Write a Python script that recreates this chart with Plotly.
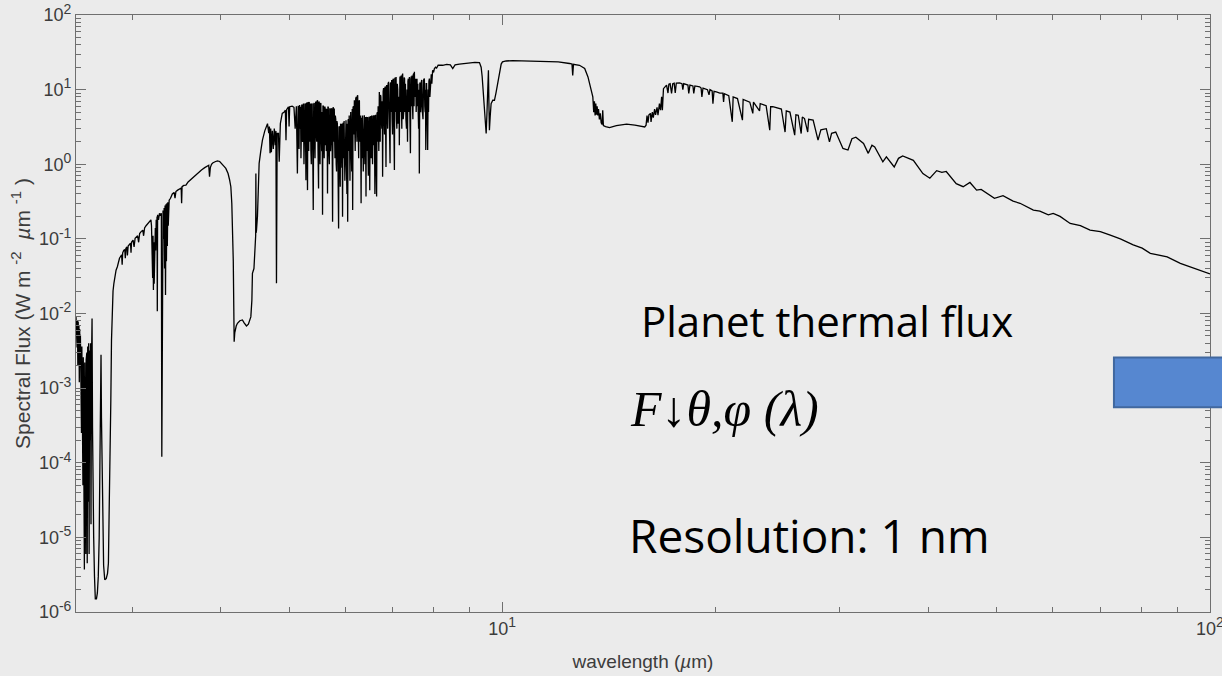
import numpy as np
import plotly.graph_objects as go

# ---- spectrum (wavelength in micrometres, flux in W m^-2 um^-1) ----
wl_a = [2.500, 2.503, 2.506, 2.509, 2.512, 2.515, 2.518, 2.521, 2.524, 2.527, 2.530, 2.533, 2.536, 2.539,
        2.542, 2.545, 2.548, 2.551, 2.554, 2.557, 2.560, 2.563, 2.566, 2.569, 2.572, 2.575, 2.578, 2.581,
        2.584, 2.587, 2.590, 2.593, 2.597, 2.601, 2.605, 2.609, 2.613, 2.617, 2.621, 2.625, 2.629, 2.634,
        2.638, 2.642, 2.648, 2.655, 2.662, 2.672, 2.680, 2.688, 2.696, 2.702, 2.708, 2.712, 2.716, 2.722,
        2.728, 2.735, 2.745, 2.758, 2.770, 2.778, 2.784, 2.792, 2.800, 2.806, 2.812, 2.820, 2.828, 2.838,
        2.848, 2.860, 2.870, 2.880, 2.890, 2.900, 2.905, 2.910, 2.920, 2.930, 2.935, 2.940, 2.950, 2.955,
        2.962, 2.975, 2.985, 2.990, 2.995, 3.010, 3.020, 3.030, 3.040, 3.055, 3.065, 3.075, 3.090, 3.107,
        3.115, 3.125, 3.140, 3.150, 3.160, 3.170, 3.180, 3.190, 3.196, 3.200, 3.204, 3.208, 3.212, 3.216,
        3.220, 3.224, 3.228, 3.232, 3.236, 3.240, 3.245, 3.250, 3.254, 3.257, 3.260, 3.270, 3.280, 3.290,
        3.300, 3.305, 3.310, 3.318, 3.325, 3.330, 3.335, 3.340, 3.345, 3.350, 3.355, 3.360, 3.365, 3.370,
        3.375, 3.385]
fx_a = [0.0090, 0.0055, 0.0088, 0.0035, 0.0082, 0.0020, 0.0078, 0.0028, 0.0070, 0.0012, 0.0062, 0.0019,
        0.0052, 0.0006, 0.0045, 0.00025, 0.0036, 0.000185, 0.0030, 0.00005, 0.0026, 0.000011, 0.0024,
        0.0000037, 0.0022, 0.00002, 0.0020, 0.000006, 0.0024, 0.00008, 0.0030, 0.0000045, 0.0036, 0.00003,
        0.0040, 0.000006, 0.0032, 0.0002, 0.0040, 0.000015, 0.0020, 0.0086, 0.0003, 0.00004, 0.00001,
        0.000003, 0.0000015, 0.0000015, 0.0000018, 0.000003, 0.00001, 0.00009, 0.0005, 0.0028, 0.0004,
        0.00009, 0.000012, 0.0000042, 0.0000027, 0.0000028, 0.0000033, 0.0000045, 0.000019, 0.00042,
        0.0007, 0.0044, 0.0152, 0.020, 0.0254, 0.033, 0.038, 0.0423, 0.050, 0.055, 0.058, 0.061, 0.045,
        0.065, 0.070, 0.072, 0.055, 0.0745, 0.078, 0.060, 0.080, 0.084, 0.0874, 0.065, 0.090, 0.096, 0.078,
        0.102, 0.105, 0.110, 0.090, 0.118, 0.125, 0.131, 0.110, 0.140, 0.150, 0.155, 0.162, 0.170, 0.175,
        0.180, 0.150, 0.060, 0.130, 0.030, 0.110, 0.0206, 0.090, 0.025, 0.100, 0.040, 0.140, 0.070, 0.180,
        0.090, 0.200, 0.0107, 0.210, 0.180, 0.220, 0.210, 0.220, 0.00012, 0.230, 0.240, 0.100, 0.260,
        0.040, 0.280, 0.0177, 0.290, 0.050, 0.300, 0.080, 0.310, 0.150, 0.330]

wl_b = [3.400, 3.420, 3.440, 3.450, 3.460, 3.480, 3.500, 3.520, 3.525, 3.530, 3.550, 3.575, 3.600, 3.620,
        3.640, 3.660, 3.680, 3.700, 3.730, 3.760, 3.800, 3.830, 3.850, 3.860, 3.870, 3.885, 3.900, 3.930,
        3.960, 3.990, 4.020, 4.050, 4.070, 4.100, 4.120, 4.137, 4.150, 4.160, 4.170, 4.177, 4.182, 4.190,
        4.210, 4.227, 4.260, 4.296, 4.320, 4.353, 4.380, 4.400, 4.415, 4.430, 4.438, 4.460, 4.478, 4.485,
        4.488, 4.491, 4.497, 4.511, 4.525, 4.536, 4.560, 4.585, 4.620, 4.661, 4.680, 4.690, 4.700, 4.710,
        4.720, 4.735, 4.750, 4.765, 4.780, 4.790, 4.799, 4.810, 4.830, 4.842, 4.860, 4.890, 4.921, 4.940,
        4.950, 4.960, 4.990, 5.000, 5.010, 5.050, 5.080, 5.100, 5.120, 5.137]
fx_b = [0.350, 0.400, 0.420, 0.350, 0.430, 0.450, 0.470, 0.480, 0.300, 0.500, 0.520, 0.525, 0.580, 0.610,
        0.640, 0.670, 0.700, 0.740, 0.790, 0.840, 0.900, 0.950, 0.970, 0.680, 0.900, 1.000, 1.040, 1.080,
        1.110, 1.090, 1.020, 0.930, 0.880, 0.750, 0.620, 0.500, 0.300, 0.160, 0.050, 0.012, 0.0042, 0.0055,
        0.0068, 0.0074, 0.0080, 0.0082, 0.0075, 0.0068, 0.0072, 0.0085, 0.0090, 0.0150, 0.0345, 0.0400,
        0.0960, 0.110, 0.750, 0.120, 0.131, 0.198, 0.500, 1.03, 1.50, 2.10, 2.80, 3.50, 2.60, 3.20, 1.40,
        3.00, 1.45, 2.80, 1.60, 3.00, 1.80, 2.80, 0.0254, 2.60, 2.60, 1.08, 3.50, 4.80, 5.00, 5.30, 2.10,
        5.40, 5.90, 3.20, 5.90, 6.00, 5.80, 3.00, 6.00, 0.75]

# 5.15-8.0 um water band: (wavelength, flux) pairs
band_c = [
    (5.150, 6.1), (5.157, 2.5), (5.165, 1.6), (5.170, 5.8), (5.175, 6.2), (5.182, 3.0), (5.190, 5.9),
    (5.197, 1.2), (5.204, 6.0), (5.210, 6.3), (5.217, 2.2), (5.225, 2.0), (5.232, 6.2), (5.240, 6.5),
    (5.248, 1.0), (5.255, 6.3), (5.260, 2.5), (5.265, 6.4), (5.270, 6.5), (5.276, 1.8), (5.282, 0.61),
    (5.289, 6.5), (5.295, 6.7), (5.302, 2.0), (5.309, 0.45), (5.315, 6.6), (5.320, 6.8), (5.325, 2.5),
    (5.330, 1.5), (5.335, 6.7), (5.339, 6.84), (5.345, 2.0), (5.350, 3.0), (5.355, 6.5), (5.360, 6.5),
    (5.368, 1.5), (5.375, 1.0), (5.382, 6.4), (5.390, 6.5), (5.400, 1.5), (5.409, 0.243), (5.417, 6.4),
    (5.425, 6.6), (5.432, 2.5), (5.440, 1.2), (5.450, 6.7), (5.460, 6.9), (5.465, 2.5), (5.470, 2.0),
    (5.477, 7.0), (5.485, 7.2), (5.494, 1.5), (5.503, 0.474), (5.509, 6.8), (5.515, 6.8), (5.522, 2.0),
    (5.530, 1.0), (5.538, 6.6), (5.545, 6.5), (5.552, 2.5), (5.560, 1.5), (5.567, 5.0), (5.575, 0.21),
    (5.582, 6.0), (5.590, 6.0), (5.597, 2.0), (5.605, 1.2), (5.612, 5.9), (5.620, 5.8), (5.628, 1.8),
    (5.637, 5.58), (5.643, 1.5), (5.650, 2.0), (5.658, 5.5), (5.666, 0.406), (5.673, 5.8), (5.680, 5.9),
    (5.690, 1.5), (5.700, 1.0), (5.707, 5.6), (5.715, 5.5), (5.722, 1.5), (5.730, 2.0), (5.738, 5.5),
    (5.745, 5.6), (5.752, 2.0), (5.760, 0.17), (5.768, 5.7), (5.775, 5.8), (5.783, 2.0), (5.792, 5.58),
    (5.798, 2.5), (5.805, 1.2), (5.812, 4.5), (5.820, 4.0), (5.828, 1.0), (5.835, 0.80), (5.842, 3.8),
    (5.850, 3.5), (5.862, 1.0), (5.874, 0.138), (5.881, 3.2), (5.888, 3.17), (5.896, 1.2), (5.905, 0.50),
    (5.912, 3.4), (5.920, 3.5), (5.928, 1.5), (5.935, 0.90), (5.942, 3.5), (5.950, 0.198), (5.958, 3.5),
    (5.965, 3.6), (5.972, 1.2), (5.980, 3.8), (5.987, 1.5), (5.995, 0.60), (6.005, 3.8), (6.017, 3.89),
    (6.026, 1.0), (6.035, 0.40), (6.042, 3.5), (6.050, 0.17), (6.058, 3.9), (6.065, 4.0), (6.072, 1.5),
    (6.080, 4.5), (6.088, 2.0), (6.095, 0.60), (6.102, 4.8), (6.110, 5.0), (6.120, 2.0), (6.130, 0.80),
    (6.140, 5.5), (6.149, 0.243), (6.157, 5.8), (6.165, 6.0), (6.174, 2.5), (6.183, 7.2), (6.192, 3.0),
    (6.200, 1.5), (6.210, 7.5), (6.220, 8.0), (6.228, 3.5), (6.235, 2.0), (6.242, 8.2), (6.250, 8.4),
    (6.260, 3.0), (6.270, 1.2), (6.278, 7.0), (6.285, 7.2), (6.292, 2.0), (6.300, 3.0), (6.310, 4.5),
    (6.320, 0.30), (6.328, 4.2), (6.335, 4.0), (6.342, 1.2), (6.350, 4.5), (6.358, 2.0), (6.365, 0.80),
    (6.375, 4.4), (6.387, 4.54), (6.394, 2.0), (6.400, 1.0), (6.410, 4.3), (6.422, 0.37), (6.428, 4.2),
    (6.435, 4.3), (6.442, 1.5), (6.450, 4.3), (6.460, 2.0), (6.470, 0.70), (6.480, 4.2), (6.491, 4.3),
    (6.496, 1.5), (6.500, 0.45), (6.510, 4.3), (6.520, 4.4), (6.530, 1.2), (6.540, 4.5), (6.550, 2.0),
    (6.560, 1.0), (6.570, 4.4), (6.580, 4.5), (6.590, 1.8), (6.598, 4.54), (6.604, 1.5), (6.610, 0.40),
    (6.618, 4.5), (6.625, 4.6), (6.636, 1.5), (6.647, 0.37), (6.656, 4.8), (6.665, 5.0), (6.672, 2.0),
    (6.680, 6.0), (6.688, 3.0), (6.695, 1.5), (6.700, 8.0), (6.706, 9.3), (6.715, 4.0), (6.725, 2.0),
    (6.732, 8.5), (6.740, 8.0), (6.750, 4.0), (6.760, 3.0), (6.770, 7.0), (6.778, 0.68), (6.790, 9.5),
    (6.800, 10.5), (6.810, 4.0), (6.820, 2.5), (6.828, 10.5), (6.835, 11.0), (6.845, 3.0), (6.853, 0.92),
    (6.862, 11.0), (6.870, 11.5), (6.880, 5.0), (6.890, 3.0), (6.900, 12.0), (6.912, 12.7), (6.928, 4.0),
    (6.944, 1.03), (6.952, 12.0), (6.960, 12.5), (6.970, 5.0), (6.980, 13.5), (6.990, 4.0), (7.000, 2.50),
    (7.010, 13.5), (7.020, 14.0), (7.032, 3.0), (7.043, 0.84), (7.052, 14.0), (7.060, 14.5), (7.070, 5.0),
    (7.082, 14.8), (7.090, 4.0), (7.100, 3.00), (7.110, 12.0), (7.120, 10.0), (7.130, 3.5), (7.140, 4.00),
    (7.150, 8.0), (7.157, 1.80), (7.170, 14.5), (7.180, 15.0), (7.190, 5.0), (7.200, 15.5), (7.208, 5.0),
    (7.215, 3.00), (7.225, 15.5), (7.235, 16.4), (7.248, 4.0), (7.260, 5.00), (7.270, 14.5), (7.280, 14.0),
    (7.290, 5.0), (7.300, 12.0), (7.312, 4.0), (7.325, 3.00), (7.338, 10.0), (7.350, 2.00), (7.360, 13.0),
    (7.370, 14.0), (7.382, 5.0), (7.395, 14.8), (7.408, 4.0), (7.420, 1.40), (7.430, 14.0), (7.440, 15.0),
    (7.450, 6.0), (7.460, 15.5), (7.470, 6.0), (7.480, 4.00), (7.490, 16.0), (7.500, 16.5), (7.508, 6.0),
    (7.516, 17.3), (7.528, 9.0), (7.540, 8.00), (7.550, 14.0), (7.560, 5.00), (7.570, 13.0), (7.580, 14.0),
    (7.590, 6.0), (7.600, 12.0), (7.610, 5.0), (7.620, 3.00), (7.630, 10.0), (7.638, 0.75), (7.650, 12.0),
    (7.660, 12.5), (7.670, 5.0), (7.680, 6.00), (7.690, 13.0), (7.700, 13.5), (7.715, 5.0), (7.730, 4.00),
    (7.745, 13.5), (7.764, 14.1), (7.775, 6.0), (7.785, 5.00), (7.792, 10.0), (7.800, 1.55), (7.810, 12.0),
    (7.820, 12.0), (7.835, 6.0), (7.848, 1.55), (7.860, 10.0), (7.870, 5.00), (7.880, 13.0), (7.892, 14.1),
    (7.905, 8.0), (7.920, 12.0), (7.930, 15.0), (7.940, 16.0), (7.955, 12.0), (7.976, 18.2), (8.000, 17.0),
]

# 8-10 um window and ozone band
wl_w = [8.020, 8.050, 8.080, 8.120, 8.241, 8.350, 8.450, 8.515, 8.580, 8.700, 8.850, 8.990, 9.150, 9.288,
        9.339, 9.370, 9.388, 9.410, 9.440, 9.470, 9.493, 9.515, 9.540, 9.563, 9.580, 9.594, 9.620, 9.647,
        9.700, 9.752, 9.800, 9.858, 9.910, 9.968, 10.01]
fx_w = [19.0, 20.0, 19.5, 21.2, 21.2, 21.8, 21.5, 19.2, 21.5, 22.0, 22.4, 23.0, 23.2, 23.0, 20.0, 15.0,
        12.0, 7.2, 5.3, 3.5, 2.58, 4.5, 8.0, 18.2, 6.0, 2.86, 4.5, 6.5, 7.2, 7.2, 9.0, 12.0, 17.0, 22.0,
        23.5]

wl_d = [10.13, 10.35, 10.80, 11.50, 12.00, 12.45, 12.55, 12.58, 12.61, 12.86, 13.08, 13.22, 13.36, 13.43,
        13.47, 13.50, 13.53, 13.56, 13.59, 13.62, 13.65, 13.68, 13.72, 13.76, 13.80, 13.84, 13.87, 13.90,
        14.00, 14.18, 14.50, 14.99, 15.40, 15.90, 15.97, 16.02, 16.07, 16.12, 16.20, 16.23, 16.30, 16.35,
        16.42, 16.47, 16.55, 16.60, 16.68, 16.74, 16.80, 16.84, 16.90, 16.97, 17.07, 17.15, 17.20, 17.27,
        17.35, 17.42, 17.50, 17.56, 17.62, 17.81, 17.95, 18.00, 18.05, 18.30, 18.35, 18.42, 18.60, 18.65,
        18.72, 19.01, 19.10, 19.15, 19.22, 19.50, 19.60, 19.66, 19.80, 19.85, 19.92]
fx_d = [24.2, 24.5, 24.3, 24.0, 23.5, 22.4, 22.0, 15.5, 21.8, 21.2, 19.2, 14.8, 9.8, 8.0, 5.0, 7.0, 4.5,
        6.5, 4.6, 6.0, 4.5, 5.5, 4.0, 4.8, 3.6, 3.4, 5.3, 3.3, 3.2, 3.1, 3.3, 3.44, 3.35, 3.16, 3.34, 4.5,
        3.6, 4.6, 4.8, 3.7, 5.0, 4.2, 5.5, 4.6, 5.8, 4.54, 6.5, 5.3, 8.0, 5.3, 10.3, 10.9, 11.5, 9.0, 11.8,
        12.0, 8.9, 12.0, 12.2, 9.0, 12.2, 12.3, 12.0, 10.0, 12.0, 11.5, 8.9, 11.5, 11.2, 8.9, 11.2, 10.9,
        10.5, 8.0, 10.5, 10.0, 8.5, 10.0, 9.6, 6.5, 9.5]

wl_e = [20.07, 20.30, 20.50, 20.55, 20.60, 20.90, 21.14, 21.20, 21.50, 21.85, 21.90, 22.38, 22.60, 22.65,
        23.10, 23.15, 23.60, 23.88, 23.95, 24.12, 24.80, 25.10, 25.20, 25.50, 25.90, 26.00, 26.20, 26.45,
        26.55, 26.74, 27.02, 27.10, 27.50, 27.94, 28.20, 28.70, 29.00, 29.20, 29.60, 30.30, 30.80, 31.20,
        31.60, 32.40, 32.90, 33.30, 33.60, 34.50, 34.90, 35.80, 36.30, 36.80, 38.10, 38.60, 39.30, 40.20,
        41.10, 41.80, 42.40, 43.80, 44.80, 45.80, 46.80, 47.50, 48.30, 49.60, 51.00, 52.70, 53.90, 55.00,
        56.30, 57.50, 59.10, 60.05, 61.40, 63.45, 65.60, 67.70, 70.00, 72.30, 74.70, 77.90, 80.20, 82.35,
        85.20, 87.00, 90.80, 93.80, 96.90, 100.0]
fx_e = [9.3, 9.0, 9.0, 6.84, 8.8, 8.3, 3.7, 8.0, 7.6, 3.9, 7.4, 6.8, 4.8, 6.8, 5.2, 6.5, 6.1, 2.86, 5.9,
        5.9, 5.5, 2.7, 5.2, 5.0, 2.45, 4.6, 4.54, 2.58, 4.3, 4.1, 2.7, 4.0, 3.9, 2.1, 2.9, 3.0, 2.0, 2.6,
        2.7, 1.63, 1.55, 2.2, 2.3, 1.9, 1.4, 1.8, 1.71, 1.08, 1.26, 0.92, 1.2, 1.29, 1.13, 0.95, 0.75, 0.65,
        0.82, 0.78, 0.80, 0.55, 0.50, 0.57, 0.45, 0.46, 0.41, 0.35, 0.38, 0.32, 0.30, 0.27, 0.243, 0.235,
        0.21, 0.22, 0.20, 0.161, 0.150, 0.131, 0.125, 0.112, 0.100, 0.083, 0.075, 0.064, 0.060, 0.0575,
        0.047, 0.042, 0.038, 0.034]

x_tick_vals = [10, 100]
x_exponents = ["1", "2"]
y_tick_vals = [1e-6, 1e-5, 1e-4, 1e-3, 1e-2, 1e-1, 1e0, 1e1, 1e2]
y_exponents = ["-6", "-5", "-4", "-3", "-2", "-1", "0", "1", "2"]

SUP = '10<sup><span style="font-size:14px">{}</span></sup>'
x_tick_text = [SUP.format(e) for e in x_exponents]
y_tick_text = [SUP.format(e) for e in y_exponents]

for a, b in ((wl_a, fx_a), (wl_b, fx_b), (wl_w, fx_w), (wl_d, fx_d), (wl_e, fx_e)):
    assert len(a) == len(b), (len(a), len(b))

wl_c = [p[0] for p in band_c]
fx_c = [p[1] for p in band_c]
wavelength = wl_a + wl_b + wl_c + wl_w + wl_d + wl_e
flux = fx_a + fx_b + fx_c + fx_w + fx_d + fx_e

x_minor = [m * 10 ** e for e in (0, 1) for m in range(2, 10) if m * 10 ** e >= 2.5]
y_minor = [m * 10.0 ** e for e in range(-6, 2) for m in range(2, 10)]

AX = "#6f6f6f"
TXT = "#3c3c3c"
BG = "#ebebeb"
tick_font = dict(family="Liberation Sans, Arial, sans-serif", size=18, color=TXT)
title_font = dict(family="Liberation Sans, Arial, sans-serif", size=19, color=TXT)
ytitle_font = dict(family="Liberation Sans, Arial, sans-serif", size=21, color=TXT)
NB = "\u00a0"
y_title = ("Spectral Flux (W m" + NB + '<sup><span style="font-size:15px">-2</span></sup>' + NB + NB
           + "<i>µ</i>m" + NB + '<sup><span style="font-size:15px">-1</span></sup>' + NB + ")")

fig = go.Figure()
fig.add_trace(go.Scatter(x=wavelength, y=flux, mode="lines",
                         line=dict(color="black", width=1.3), showlegend=False, hoverinfo="skip"))

fig.update_layout(
    width=1222, height=676,
    paper_bgcolor=BG, plot_bgcolor=BG,
    margin=dict(l=76.3, r=12.3, t=14.7, b=63.7, autoexpand=False),
    xaxis=dict(type="log", range=[np.log10(2.5), 2], tickmode="array", tickvals=x_tick_vals,
               ticktext=x_tick_text, ticks="inside", ticklen=10, tickwidth=1, tickcolor=AX,
               showline=True, linecolor=AX, linewidth=1, mirror="ticks", showgrid=False, zeroline=False,
               ticklabeloverflow="allow",
               minor=dict(tickmode="array", tickvals=x_minor, ticks="inside", ticklen=5, tickcolor=AX,
                          showgrid=False),
               tickfont=tick_font,
               title=dict(text="wavelength (<i>µ</i>m)", font=title_font, standoff=17)),
    yaxis=dict(type="log", range=[-6, 2], tickmode="array", tickvals=y_tick_vals, ticktext=y_tick_text,
               ticks="inside", ticklen=10, tickwidth=1, tickcolor=AX,
               showline=True, linecolor=AX, linewidth=1, mirror="ticks", showgrid=False, zeroline=False,
               ticklabeloverflow="allow",
               minor=dict(tickmode="array", tickvals=y_minor, ticks="inside", ticklen=5, tickcolor=AX,
                          showgrid=False),
               tickfont=tick_font,
               title=dict(text=y_title, font=ytitle_font, standoff=2)),
)

fig.add_shape(type="rect", xref="paper", yref="paper", x0=0.9153, x1=1.03, y0=0.3430, y1=0.4264,
              fillcolor="#5687d0", line=dict(color="#41689f", width=2), layer="above")

fig.add_annotation(text="Planet thermal flux", xref="paper", yref="paper", x=0.4965, y=0.4884,
                   xanchor="left", yanchor="middle", showarrow=False,
                   font=dict(family="Open Sans", size=42, color="black"))
fig.add_annotation(text="<i>F↓θ,φ (λ)</i>", xref="paper", yref="paper", x=0.4870, y=0.3394,
                   xanchor="left", yanchor="middle", showarrow=False,
                   font=dict(family="Liberation Serif", size=50, color="black"))
fig.add_annotation(text="Resolution: 1 nm", xref="paper", yref="paper", x=0.4860, y=0.1285,
                   xanchor="left", yanchor="middle", showarrow=False,
                   font=dict(family="Open Sans", size=46, color="black"))

fig.write_html("out.html")
